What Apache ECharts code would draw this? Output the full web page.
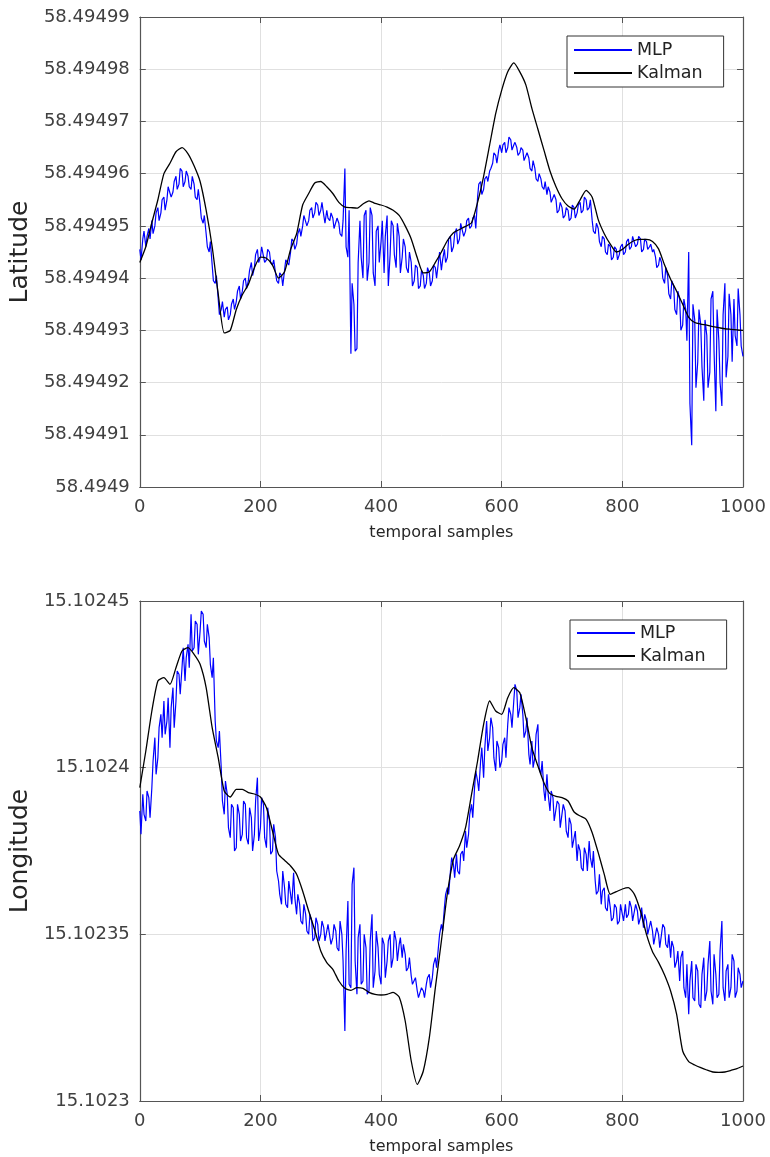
<!DOCTYPE html>
<html>
<head>
<meta charset="utf-8">
<title>MLP vs Kalman</title>
<script src="https://cdn.jsdelivr.net/npm/echarts@6/dist/echarts.min.js"></script>
<style>
  html, body { margin: 0; padding: 0; background: #fff; }
  #chart { width: 770px; height: 1157px; }
</style>
</head>
<body>
<div id="chart"></div>
<script>
// --- data ---
const xTicks = [0, 200, 400, 600, 800, 1000]
const latTicks = [58.4949, 58.49491, 58.49492, 58.49493, 58.49494, 58.49495, 58.49496, 58.49497, 58.49498, 58.49499]
const lonTicks = [15.1023, 15.10235, 15.1024, 15.10245]
const latInterval = 0.00001
const lonInterval = 0.00005

const mlpStep = 5      // MLP values at samples 0, 5, 10, ...
const mlpMidOffset = 2 // extra MLP values at samples 2, 7, 12, ...
const kalmanStep = 10  // Kalman values every 10 samples

const latMLP = [
  58.4949455, 58.4949475, 58.494946, 58.4949495, 58.494951, 58.49495, 58.4949535, 58.4949525, 58.4949555, 58.494955,
  58.4949575, 58.4949565, 58.4949595, 58.494958, 58.4949605, 58.4949585, 58.4949595, 58.494957, 58.494958, 58.494955,
  58.494954, 58.4949505, 58.4949485, 58.494945, 58.4949425, 58.494939, 58.494936, 58.494934, 58.4949325, 58.4949345,
  58.494933, 58.494936, 58.4949355, 58.4949385, 58.4949375, 58.49494, 58.4949395, 58.494943, 58.494942, 58.4949455,
  58.494944, 58.494946, 58.4949435, 58.494945, 58.4949425, 58.494941, 58.494939, 58.4949405, 58.4949415, 58.4949435,
  58.494945, 58.494947, 58.4949465, 58.4949495, 58.49495, 58.494952, 58.494951, 58.4949535, 58.4949525, 58.494954,
  58.494953, 58.494952, 58.494953, 58.494951, 58.4949515, 58.4949495, 58.4949505, 58.494948, 58.494961, 58.494944,
  58.4949255, 58.494935, 58.4949265, 58.494951, 58.49494, 58.494953, 58.494943, 58.494952, 58.4949385, 58.49495,
  58.494947, 58.494941, 58.494952, 58.4949445, 58.49495, 58.494942, 58.494948, 58.494944, 58.494946, 58.494941,
  58.494943, 58.4949395, 58.494942, 58.4949385, 58.4949405, 58.494939, 58.494941, 58.4949395, 58.494942, 58.494943,
  58.4949415, 58.4949455, 58.494944, 58.494948, 58.494946, 58.4949495, 58.4949475, 58.4949505, 58.494949, 58.4949515,
  58.49495, 58.494952, 58.4949555, 58.4949585, 58.494957, 58.4949595, 58.4949605, 58.494962, 58.4949635, 58.4949645,
  58.494964, 58.494966, 58.494965, 58.4949665, 58.4949655, 58.494965, 58.494964, 58.4949645, 58.4949625, 58.494963,
  58.4949605, 58.494961, 58.4949585, 58.494959, 58.494957, 58.494956, 58.4949565, 58.4949545, 58.494955, 58.494953,
  58.4949535, 58.494952, 58.494953, 58.4949515, 58.4949535, 58.4949525, 58.4949545, 58.494953, 58.494955, 58.4949535,
  58.494951, 58.4949485, 58.4949495, 58.494946, 58.4949475, 58.4949445, 58.494946, 58.494944, 58.4949455, 58.4949445,
  58.4949465, 58.494945, 58.4949475, 58.494946, 58.494948, 58.4949465, 58.4949475, 58.4949455, 58.494947, 58.494946,
  58.494945, 58.494944, 58.4949425, 58.494943, 58.494939, 58.4949405, 58.494936, 58.4949385, 58.494933, 58.494936,
  58.494931, 58.494934, 58.494945, 58.494908, 58.494932, 58.494924, 58.494931, 58.4949165, 58.494929, 58.494922,
  58.4949375, 58.4949145, 58.494928, 58.4949155, 58.494939, 58.494925, 58.494933, 58.494936, 58.494927, 58.494933,
  58.494925
]

const latMLPMid = [
  58.4949435, 58.494949, 58.494948, 58.4949475, 58.4949485, 58.4949525, 58.494951, 58.494955, 58.494953, 58.4949575,
  58.4949555, 58.4949585, 58.494957, 58.494961, 58.4949575, 58.4949605, 58.4949575, 58.4949595, 58.4949555, 58.494957,
  58.4949515, 58.494952, 58.494946, 58.494947, 58.4949395, 58.4949405, 58.494933, 58.4949355, 58.494934, 58.494932,
  58.494935, 58.494934, 58.4949375, 58.494936, 58.4949395, 58.494938, 58.4949415, 58.4949405, 58.4949445, 58.494943,
  58.494946, 58.494943, 58.4949455, 58.494943, 58.4949435, 58.4949395, 58.494941, 58.4949385, 58.4949435, 58.4949425,
  58.4949475, 58.4949455, 58.4949485, 58.494948, 58.494952, 58.49495, 58.494953, 58.4949515, 58.4949545, 58.494952,
  58.4949545, 58.4949505, 58.4949515, 58.4949525, 58.4949495, 58.4949515, 58.4949485, 58.494951, 58.494946, 58.494953,
  58.494939, 58.494926, 58.494943, 58.494944, 58.494952, 58.4949395, 58.4949535, 58.494941, 58.494949, 58.494943,
  58.494951, 58.494948, 58.4949385, 58.494951, 58.4949445, 58.4949505, 58.494941, 58.4949475, 58.494942, 58.494945,
  58.4949385, 58.4949425, 58.494938, 58.4949415, 58.494938, 58.494942, 58.4949385, 58.4949425, 58.49494, 58.494945,
  58.4949435, 58.494943, 58.4949475, 58.494945, 58.4949485, 58.4949465, 58.4949505, 58.494948, 58.494951, 58.4949495,
  58.4949515, 58.4949495, 58.494958, 58.494956, 58.494959, 58.4949585, 58.494961, 58.494964, 58.494962, 58.4949655,
  58.4949655, 58.494964, 58.494967, 58.4949645, 58.494966, 58.4949635, 58.494965, 58.4949625, 58.494964, 58.494961,
  58.4949625, 58.494959, 58.49496, 58.4949575, 58.4949585, 58.4949575, 58.4949545, 58.494956, 58.4949525, 58.4949545,
  58.4949515, 58.4949535, 58.494951, 58.494954, 58.4949515, 58.494954, 58.4949525, 58.4949555, 58.494953, 58.494955,
  58.494949, 58.4949505, 58.494947, 58.494948, 58.494945, 58.4949465, 58.4949435, 58.494946, 58.4949435, 58.494946,
  58.4949445, 58.494947, 58.4949455, 58.494948, 58.494946, 58.494948, 58.494945, 58.4949475, 58.4949455, 58.4949465,
  58.4949455, 58.494942, 58.494944, 58.49494, 58.494942, 58.494937, 58.4949395, 58.494934, 58.4949375, 58.49493,
  58.494936, 58.494928, 58.494916, 58.494935, 58.494919, 58.494934, 58.494923, 58.494932, 58.494919, 58.494936,
  58.494926, 58.494934, 58.49492, 58.494933, 58.494921, 58.494937, 58.494924, 58.494929, 58.494938, 58.494927
]

const latKalman = [
  58.494943, 58.494946, 58.4949506, 58.494955, 58.49496, 58.494962, 58.4949642, 58.494965, 58.4949638, 58.4949615,
  58.4949585, 58.494953, 58.494946, 58.494937, 58.4949295, 58.49493, 58.494934, 58.4949368, 58.4949388, 58.494942,
  58.494944, 58.4949438, 58.4949425, 58.49494, 58.4949412, 58.4949455, 58.4949485, 58.494954, 58.4949562, 58.4949582,
  58.4949585, 58.4949575, 58.4949562, 58.4949545, 58.4949536, 58.4949535, 58.4949534, 58.4949542, 58.4949548, 58.4949543,
  58.494954, 58.4949536, 58.494953, 58.494952, 58.49495, 58.4949475, 58.4949439, 58.494941, 58.4949412, 58.494943,
  58.494945, 58.4949472, 58.4949487, 58.4949493, 58.4949499, 58.4949506, 58.4949545, 58.4949595, 58.4949655, 58.4949715,
  58.494976, 58.4949795, 58.4949812, 58.4949795, 58.494977, 58.4949725, 58.4949685, 58.4949645, 58.4949605, 58.4949575,
  58.4949552, 58.4949538, 58.4949532, 58.494955, 58.4949568, 58.4949555, 58.4949512, 58.4949485, 58.4949465, 58.494945,
  58.4949455, 58.4949465, 58.4949472, 58.4949474, 58.4949474, 58.494947, 58.4949456, 58.4949425, 58.4949398, 58.4949375,
  58.494935, 58.4949325, 58.4949315, 58.4949312, 58.494931, 58.4949307, 58.4949305, 58.4949303, 58.4949302, 58.4949301,
  58.49493
]

const lonMLP = [
  15.102387, 15.102392, 15.102384, 15.102391, 15.102394, 15.102409, 15.102403, 15.102416, 15.10242, 15.102414,
  15.102406, 15.102424, 15.10242, 15.102428, 15.10243, 15.102426, 15.102437, 15.102446, 15.102436, 15.102443,
  15.102441, 15.102446, 15.102436, 15.102439, 15.102427, 15.102414, 15.102406, 15.1024, 15.102386, 15.102392,
  15.102379, 15.102388, 15.102376, 15.102386, 15.10238, 15.102389, 15.102377, 15.102385, 15.10238, 15.102397,
  15.102382, 15.102389, 15.102376, 15.102384, 15.102375, 15.102379, 15.102366, 15.102359, 15.102364, 15.102358,
  15.102362, 15.1023685, 15.102356, 15.102359, 15.102353, 15.102356, 15.10235, 15.102354, 15.102349, 15.102353,
  15.10235, 15.102352, 15.102348, 15.102353, 15.102349, 15.102351, 15.102345, 15.10235, 15.102321, 15.10236,
  15.102334, 15.10237, 15.102332, 15.102353, 15.102336, 15.102346, 15.102333, 15.102356, 15.102339, 15.102346,
  15.102335, 15.102347, 15.102342, 15.10235, 15.102343, 15.102348, 15.102347, 15.102343, 15.102344, 15.10234,
  15.1023375, 15.102335, 15.102333, 15.1023315, 15.102333, 15.102335, 15.102338, 15.102337, 15.102343, 15.102346,
  15.102353, 15.102358, 15.102364, 15.102369, 15.102371, 15.102374, 15.102368, 15.102375, 15.102381, 15.10238,
  15.102389, 15.102394, 15.102396, 15.102402, 15.102397, 15.102414, 15.102409, 15.102412, 15.102399, 15.102406,
  15.102402, 15.102409, 15.102413, 15.102416, 15.10242, 15.102423, 15.102418, 15.102416, 15.102411, 15.102404,
  15.102408, 15.102403, 15.102413, 15.102398, 15.102393, 15.102398, 15.102387, 15.102391, 15.102384, 15.102389,
  15.102382, 15.102387, 15.102379, 15.102383, 15.102376, 15.102372, 15.102375, 15.102369, 15.102374, 15.102378,
  15.10237, 15.102366, 15.102363, 15.102359, 15.102364, 15.102357, 15.102358, 15.102355, 15.102358, 15.102354,
  15.102356, 15.102359, 15.102356, 15.102358, 15.102354, 15.102357, 15.102355, 15.102352, 15.102354, 15.10235,
  15.102351, 15.102347, 15.10235, 15.102346, 15.102352, 15.102346, 15.102343, 15.102346, 15.102342, 15.102336,
  15.102345, 15.102331, 15.102326, 15.102342, 15.10233, 15.102339, 15.102328, 15.102343, 15.102333, 15.102348,
  15.102329, 15.102338, 15.102332, 15.102354, 15.10233, 15.102341, 15.102334, 15.102342, 15.102333, 15.102338,
  15.102336
]

const lonMLPMid = [
  15.10238, 15.102386, 15.102393, 15.102385, 15.102402, 15.102398, 15.102412, 15.102409, 15.10241, 15.102421,
  15.102418, 15.102412, 15.102429, 15.102422, 15.102436, 15.102433, 15.10243, 15.102435, 15.102444, 15.102434,
  15.102447, 15.102438, 15.102443, 15.102431, 15.102433, 15.102408, 15.102411, 15.10239, 15.102396, 15.102382,
  15.102389, 15.102375, 15.102389, 15.102378, 15.10239, 15.102379, 15.102388, 15.102375, 15.10239, 15.102378,
  15.102391, 15.102379, 15.102388, 15.102374, 15.102383, 15.102369, 15.102362, 15.102369, 15.102359, 15.102366,
  15.102359, 15.102361, 15.102362, 15.102354, 15.102359, 15.102351, 15.102356, 15.102348, 15.102355, 15.102348,
  15.102354, 15.102348, 15.102353, 15.102347, 15.102353, 15.102346, 15.102354, 15.102342, 15.102345, 15.102335,
  15.102365, 15.102342, 15.102349, 15.102335, 15.10235, 15.102332, 15.102348, 15.102334, 15.102351, 15.102338,
  15.102349, 15.102337, 15.102348, 15.10234, 15.102351, 15.102342, 15.102349, 15.102347, 15.102339, 15.102343,
  15.102335, 15.102337, 15.102331, 15.102334, 15.102331, 15.102337, 15.102334, 15.102341, 15.10234, 15.10235,
  15.102351, 15.102362, 15.102362, 15.102373, 15.102367, 15.102369, 15.102374, 15.102372, 15.102376, 15.102386,
  15.102385, 15.102399, 15.102393, 15.102406, 15.102406, 15.102405, 15.102415, 15.102403, 15.102408, 15.1024,
  15.102407, 15.102403, 15.102418, 15.102412, 15.102425, 15.102415, 15.102422, 15.102409, 15.102415, 15.102401,
  15.1024, 15.10241, 15.1024, 15.102402, 15.10239, 15.102392, 15.102393, 15.102384, 15.10239, 15.102382,
  15.102389, 15.102381, 15.102385, 15.102376, 15.102381, 15.102377, 15.10237, 15.102376, 15.102369, 15.102373,
  15.102375, 15.102362, 15.102368, 15.102363, 15.102358, 15.102362, 15.102354, 15.102359, 15.102353, 15.102359,
  15.102354, 15.102355, 15.10236, 15.102354, 15.102359, 15.102353, 15.102358, 15.102356, 15.10235, 15.102354,
  15.102347, 15.102352, 15.102346, 15.102353, 15.102347, 15.10235, 15.102348, 15.10234, 15.102345, 15.102343,
  15.102334, 15.102341, 15.102336, 15.102331, 15.102341, 15.102329, 15.102338, 15.10233, 15.102341, 15.102333,
  15.102344, 15.102331, 15.102345, 15.102334, 15.102339, 15.102331, 15.102344, 15.102331, 15.10234, 15.102334
]

const lonKalman = [
  15.102394, 15.102405, 15.102417, 15.102426, 15.102427, 15.102425, 15.10243, 15.102435, 15.102436, 15.102434,
  15.102431, 15.102424, 15.102412, 15.102403, 15.102393, 15.1023912, 15.1023935, 15.1023935, 15.1023925, 15.1023921,
  15.1023912, 15.102388, 15.102381, 15.102374, 15.1023722, 15.1023705, 15.102368, 15.102363, 15.102357, 15.1023513,
  15.102345, 15.1023415, 15.1023395, 15.102336, 15.1023338, 15.1023332, 15.102334, 15.1023338, 15.1023326, 15.102332,
  15.1023318, 15.102332, 15.1023326, 15.1023312, 15.102324, 15.102312, 15.102305, 15.102309, 15.102319, 15.102334,
  15.102348, 15.1023624, 15.1023725, 15.1023765, 15.102382, 15.102392, 15.102402, 15.102413, 15.10242, 15.102417,
  15.102416, 15.102421, 15.102424, 15.1024225, 15.102415, 15.102406, 15.1024005, 15.1023955, 15.1023922, 15.1023914,
  15.102391, 15.10239, 15.1023867, 15.1023855, 15.1023845, 15.1023805, 15.1023745, 15.102368, 15.102362, 15.1023628,
  15.1023636, 15.102364, 15.102362, 15.102357, 15.10235, 15.1023448, 15.1023416, 15.1023378, 15.102333, 15.102326,
  15.102315, 15.1023118, 15.1023108, 15.10231, 15.1023093, 15.1023087, 15.1023086, 15.1023087, 15.1023092, 15.1023097,
  15.1023105
]

// --- chart ---
const FONT = 'DejaVu Sans'
const AXIS_COLOR = '#555'
const GRID_COLOR = '#e0e0e0'

const toPoints = (arr, step) => arr.map((v, i) => [i * step, v])
// interleave the main MLP readings with the in-between ones
const mlpPoints = (main, mid) => {
  const pts = []
  main.forEach((v, i) => {
    pts.push([i * mlpStep, v])
    if (i < mid.length) pts.push([i * mlpStep + mlpMidOffset, mid[i]])
  })
  return pts
}
const fmt = v => String(+v.toFixed(5))

const grids = [
  { left: 137, top: 17, width: 606, height: 470 },
  { left: 137, top: 601, width: 606, height: 500 }
]

function xAxes(gridIndex) {
  const common = {
    type: 'value',
    gridIndex,
    min: xTicks[0],
    max: xTicks[xTicks.length - 1],
    interval: xTicks[1] - xTicks[0],
    axisLine: { onZero: false, lineStyle: { color: AXIS_COLOR, width: 1.2 } },
    axisTick: { inside: true, length: 6, lineStyle: { color: AXIS_COLOR } }
  }
  return [
    {
      ...common,
      name: 'temporal samples',
      nameLocation: 'middle',
      nameGap: 38,
      nameTextStyle: { fontFamily: FONT, fontSize: 16, color: '#262626' },
      axisLabel: { fontFamily: FONT, fontSize: 18, color: '#404040', margin: 11, formatter: v => String(v) },
      splitLine: { show: true, lineStyle: { color: GRID_COLOR, width: 1 } }
    },
    {
      ...common,
      position: 'top',
      axisLabel: { show: false },
      splitLine: { show: false }
    }
  ]
}

function yAxes(gridIndex, ticks, interval, title) {
  const common = {
    type: 'value',
    gridIndex,
    min: ticks[0],
    max: ticks[ticks.length - 1],
    interval,
    axisLine: { show: true, onZero: false, lineStyle: { color: AXIS_COLOR, width: 1.2 } },
    axisTick: { show: true, inside: true, length: 6, lineStyle: { color: AXIS_COLOR } }
  }
  return [
    {
      ...common,
      name: title,
      nameLocation: 'middle',
      nameGap: 106,
      nameTextStyle: { fontFamily: FONT, fontSize: 25, color: '#262626' },
      axisLabel: { fontFamily: FONT, fontSize: 18, color: '#404040', margin: 10, formatter: fmt },
      splitLine: { show: true, lineStyle: { color: GRID_COLOR, width: 1 } }
    },
    {
      ...common,
      position: 'right',
      axisLabel: { show: false },
      splitLine: { show: false }
    }
  ]
}

function legendBox(left, top, padTop) {
  return {
    data: ['MLP', 'Kalman'],
    orient: 'vertical',
    left,
    top,
    padding: [padTop, 21, padTop, 7],
    itemGap: 3,
    itemWidth: 58,
    itemHeight: 2,
    icon: 'rect',
    selectedMode: false,
    backgroundColor: '#fff',
    borderColor: '#333',
    borderWidth: 1,
    borderRadius: 0,
    textStyle: { fontFamily: FONT, fontSize: 17.5, lineHeight: 20, color: '#222' }
  }
}

function seriesPair(axisIndex, mlp, mlpMid, kalman) {
  return [
    {
      name: 'MLP',
      type: 'line',
      xAxisIndex: axisIndex,
      yAxisIndex: axisIndex,
      data: mlpPoints(mlp, mlpMid),
      symbol: 'none',
      lineStyle: { color: '#0000ff', width: 1.2 },
      itemStyle: { color: '#0000ff' },
      z: 2
    },
    {
      name: 'Kalman',
      type: 'line',
      xAxisIndex: axisIndex,
      yAxisIndex: axisIndex,
      data: toPoints(kalman, kalmanStep),
      symbol: 'none',
      smooth: 0.2,
      lineStyle: { color: '#000', width: 1.3 },
      itemStyle: { color: '#000' },
      z: 3
    }
  ]
}

const chart = echarts.init(document.getElementById('chart'))
chart.setOption({
  animation: false,
  backgroundColor: '#fff',
  grid: grids,
  xAxis: [...xAxes(0), ...xAxes(1)],
  yAxis: [...yAxes(0, latTicks, latInterval, 'Latitude'), ...yAxes(1, lonTicks, lonInterval, 'Longitude')],
  legend: [legendBox(567, 36, 4), legendBox(570, 620, 3)],
  series: [...seriesPair(0, latMLP, latMLPMid, latKalman), ...seriesPair(2, lonMLP, lonMLPMid, lonKalman)]
})
</script>
</body>
</html>
